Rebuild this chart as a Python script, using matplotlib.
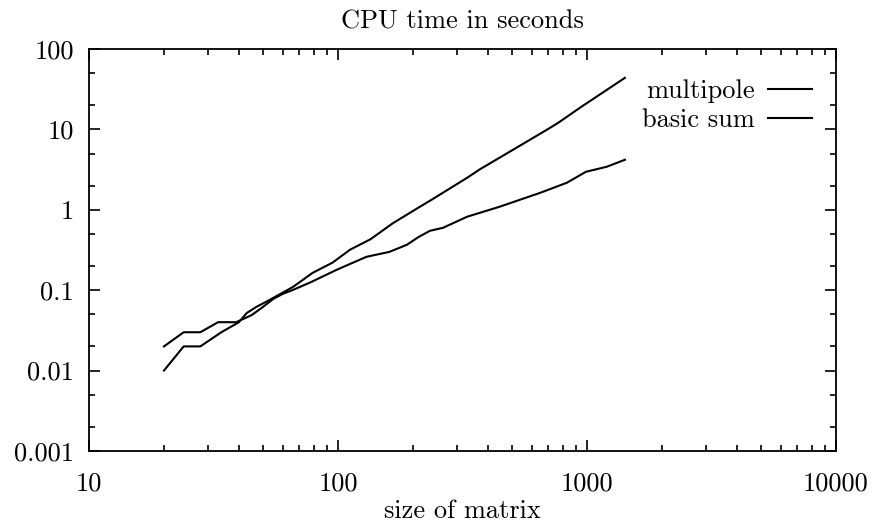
import numpy as np
import matplotlib.pyplot as plt
from matplotlib.ticker import FixedLocator, FixedFormatter, LogLocator, NullFormatter

# tamaños de matriz y tiempos de CPU (segundos)
size_multipole = [20, 24, 28, 33, 39, 45, 50, 55, 60, 66, 77, 99, 130, 161,
                  189, 211, 234, 264, 330, 445, 650, 830, 990, 1200, 1420]
time_multipole = [0.02, 0.03, 0.03, 0.04, 0.04, 0.049, 0.062, 0.078, 0.09, 0.101,
                  0.124, 0.18, 0.26, 0.30, 0.367, 0.46, 0.548, 0.597, 0.82, 1.09,
                  1.63, 2.17, 2.97, 3.43, 4.19]

size_basic = [20, 24, 28, 34, 40, 43, 47, 52, 66, 79, 95, 112, 135, 166,
              210, 241, 330, 372, 504, 690, 764, 937, 1420]
time_basic = [0.01, 0.02, 0.02, 0.03, 0.04, 0.052, 0.062, 0.073, 0.11, 0.164,
              0.22, 0.32, 0.43, 0.68, 1.06, 1.37, 2.5, 3.2, 5.57, 9.9, 12.0,
              18.6, 43.8]

xticks = [10, 100, 1000, 10000]
xtick_labels = ["10", "100", "1000", "10000"]
yticks = [0.001, 0.01, 0.1, 1, 10, 100]
ytick_labels = ["0.001", "0.01", "0.1", "1", "10", "100"]

plt.rcParams['font.family'] = ['cmr10', 'DejaVu Serif']
plt.rcParams['axes.unicode_minus'] = False
fs = 19

fig = plt.figure(figsize=(8.76, 5.25), dpi=100)
ax = fig.add_axes([89 / 876, 74 / 525, 747 / 876, 402 / 525])

ax.plot(size_multipole, time_multipole, color="black", lw=1.5, label="multipole")
ax.plot(size_basic, time_basic, color="black", lw=1.5, label="basic sum")

ax.set_xscale("log")
ax.set_yscale("log")
ax.set_xlim(10, 10000)
ax.set_ylim(0.001, 100)

# ticks estilo gnuplot: hacia dentro en los cuatro lados
ax.xaxis.set_major_locator(FixedLocator(xticks))
ax.xaxis.set_major_formatter(FixedFormatter(xtick_labels))
ax.xaxis.set_minor_locator(LogLocator(base=10, subs=np.arange(2, 10)))
ax.xaxis.set_minor_formatter(NullFormatter())
ax.yaxis.set_major_locator(FixedLocator(yticks))
ax.yaxis.set_major_formatter(FixedFormatter(ytick_labels))
ax.yaxis.set_minor_locator(LogLocator(base=10, subs=[2, 5]))
ax.yaxis.set_minor_formatter(NullFormatter())

ax.tick_params(which="both", direction="in", top=True, right=True, width=1.2)
ax.tick_params(which="major", length=8, labelsize=fs)
ax.tick_params(which="minor", length=4)
ax.tick_params(axis="x", which="major", pad=15)
ax.tick_params(axis="y", which="major", pad=11)
for sp in ax.spines.values():
    sp.set_linewidth(1.3)

ax.set_title("CPU time in seconds", fontsize=fs, pad=14.5)
ax.set_xlabel("size of matrix", fontsize=fs, labelpad=3)

# leyenda: texto a la izquierda de la muestra de linea
ax.legend(loc="upper right", bbox_to_anchor=(1 - 24 / 747, 0.925), frameon=False,
          markerfirst=False, fontsize=fs, handlelength=1.67, handletextpad=0.5,
          labelspacing=0.2, borderaxespad=0.0, borderpad=0.0)

fig.savefig("out.png", dpi=100)
